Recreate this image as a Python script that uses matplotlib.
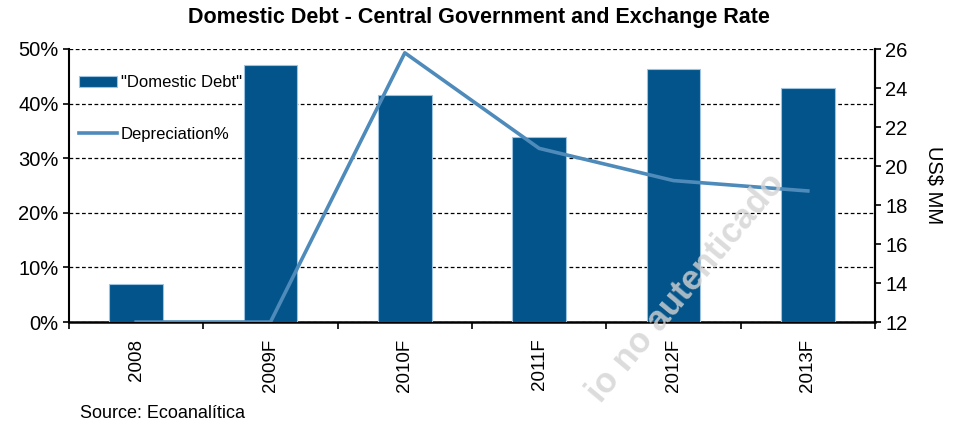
import numpy as np
import matplotlib
matplotlib.use("Agg")
from matplotlib import pyplot as plt

# Data
years = ["2008", "2009F", "2010F", "2011F", "2012F", "2013F"]
domestic_debt = [13.95, 25.2, 23.65, 21.5, 24.95, 24.0]   # US$ MM (right axis)
depreciation = [0.0, 0.0, 49.3, 31.8, 25.9, 24.0]         # % (left axis)

plt.rcParams["font.family"] = ["Liberation Sans", "DejaVu Sans"]

bar_color = "#02548A"
line_color = "#4E8BBA"

fig = plt.figure(figsize=(9.58, 4.23), dpi=100)
ax = fig.add_axes([69/958, 1 - 322/423, 806/958, 273/423])
x = np.arange(len(years))

# percent axis: grid only
ax.set_xlim(-0.5, len(years) - 0.5)
ax.set_ylim(0, 50)
ax.set_yticks([0, 10, 20, 30, 40, 50])
ax.set_yticklabels(["{}%".format(v) for v in [0, 10, 20, 30, 40, 50]])
ax.yaxis.grid(True, linestyle=(0, (3, 2)), color="black", linewidth=0.9)
ax.spines["top"].set_visible(False)
ax.spines["left"].set_linewidth(1.5)
ax.spines["bottom"].set_linewidth(1.8)
ax.spines["right"].set_linewidth(1.5)
ax.tick_params(axis="y", labelsize=14.5, direction="out", length=4, width=1.2)
ax.set_xticks(x)
ax.set_xticklabels(years, rotation=90, fontsize=13.5)
ax.tick_params(axis="x", which="major", length=0, pad=12)
ax.set_xticks(np.arange(-0.5, len(years) - 0.4, 1.0), minor=True)
ax.tick_params(axis="x", which="minor", length=5, width=1.2, direction="out")

# bars on the US$ MM axis
axb = ax.twinx()
axb.set_ylim(12, 26)
axb.set_yticks(range(12, 27, 2))
bars = axb.bar(x, domestic_debt, width=0.4, color=bar_color,
               edgecolor="#9EC3E0", linewidth=0.8, label='"Domestic Debt"')
axb.tick_params(axis="y", labelsize=14.5, direction="out", length=4, width=1.2)
axb.set_ylabel("US$ MM", rotation=270, fontsize=14.5, labelpad=26)
for s in ["top", "left", "bottom"]:
    axb.spines[s].set_visible(False)
axb.spines["right"].set_linewidth(1.5)

# line on the percent scale, drawn on top
axl = ax.twinx()
axl.set_ylim(0, 50)
axl.set_yticks([])
axl.axis("off")
line, = axl.plot(x, depreciation, color=line_color, linewidth=2.6,
                 label="Depreciation%")

leg = axl.legend([bars, line], ['"Domestic Debt"', "Depreciation%"],
                 loc="upper left", bbox_to_anchor=(0.0, 0.94), frameon=False,
                 fontsize=12, labelspacing=2.2, handlelength=2.3,
                 handletextpad=0.2, borderaxespad=0.2)

fig.text(0.5, 1 - 18/423, "Domestic Debt - Central Government and Exchange Rate",
         ha="center", va="center", fontsize=15.5, fontweight="bold")
fig.text(80/958, 1 - 413/423, "Source: Ecoanalítica", ha="left", va="center",
         fontsize=13)

# faint watermark
fig.text(686/958, 1 - 288/423, "io no autenticado", ha="center", va="center",
         rotation=50, fontsize=25, fontweight="bold", color="#D3D3D3",
         alpha=0.8, zorder=0)

fig.savefig("out.png", dpi=100)
